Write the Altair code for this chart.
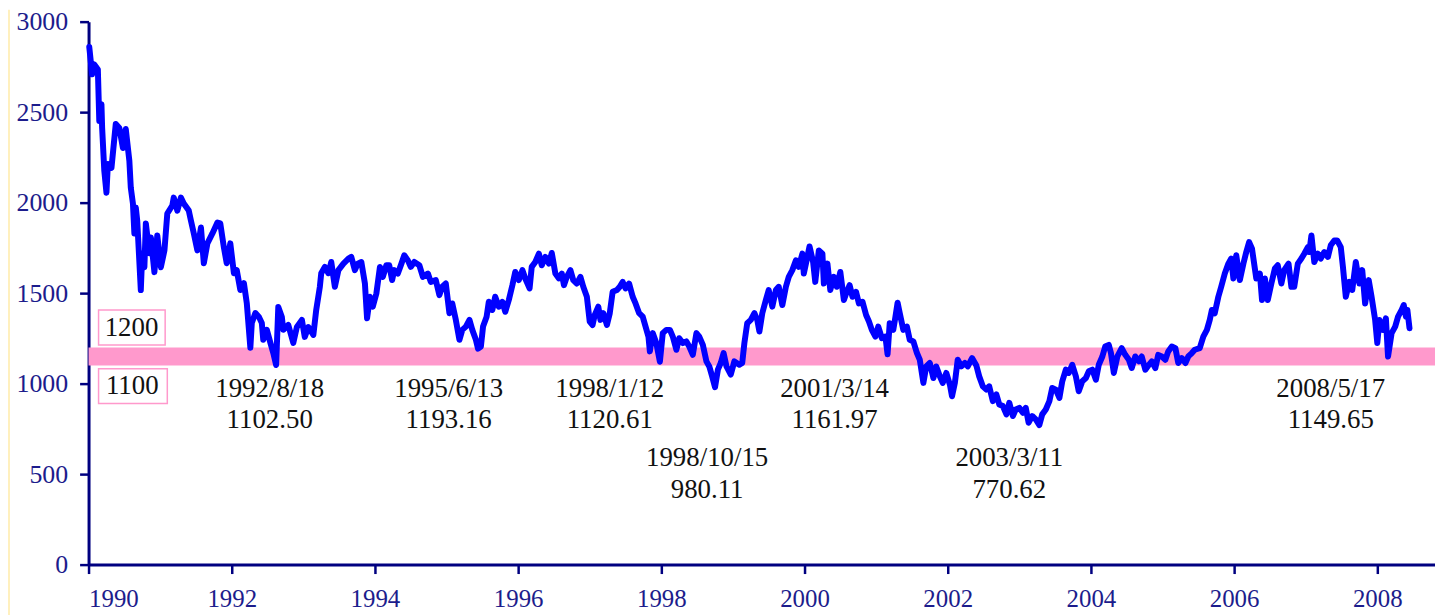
import altair as alt
import pandas as pd

# ---- index series (decimal year, index value) ----
years_1990_93 = [1990.01, 1990.05, 1990.08, 1990.13, 1990.15, 1990.18, 1990.19, 1990.22, 1990.25, 1990.27,
                 1990.32, 1990.38, 1990.43, 1990.48, 1990.52, 1990.57, 1990.59, 1990.62, 1990.64, 1990.66,
                 1990.68, 1990.73, 1990.75, 1990.78, 1990.80, 1990.85, 1990.87, 1990.92, 1990.96, 1991.01,
                 1991.06, 1991.10, 1991.17, 1991.19, 1991.24, 1991.29, 1991.33, 1991.40, 1991.43, 1991.47,
                 1991.52, 1991.57, 1991.61, 1991.66, 1991.73, 1991.80, 1991.84, 1991.89, 1991.93, 1991.98,
                 1992.03, 1992.07, 1992.12, 1992.17, 1992.21, 1992.26, 1992.28, 1992.33, 1992.38, 1992.42,
                 1992.44, 1992.49, 1992.54, 1992.58, 1992.62, 1992.65, 1992.70, 1992.72, 1992.79, 1992.86,
                 1992.91, 1992.98, 1993.02, 1993.07, 1993.14, 1993.18, 1993.23, 1993.25]
vals_1990_93 = [2860, 2709, 2764, 2736, 2451, 2544, 2412, 2176, 2055, 2214,
                2192, 2434, 2412, 2302, 2407, 2231, 2083, 1995, 1830, 1973,
                1901, 1517, 1720, 1643, 1885, 1720, 1808, 1616, 1819, 1643,
                1736, 1940, 1984, 2028, 1956, 2028, 1995, 1956, 1901, 1830,
                1736, 1863, 1665, 1775, 1830, 1890, 1885, 1753, 1665, 1775,
                1610, 1627, 1517, 1555, 1445, 1198, 1335, 1390, 1368, 1335,
                1242, 1297, 1225, 1170, 1103, 1423, 1368, 1297, 1324, 1225,
                1313, 1352, 1258, 1313, 1269, 1407, 1533, 1610]

years_1993_95 = [1993.30, 1993.35, 1993.39, 1993.44, 1993.49, 1993.56, 1993.63, 1993.67, 1993.72, 1993.76,
                 1993.81, 1993.86, 1993.89, 1993.93, 1993.97, 1994.02, 1994.07, 1994.11, 1994.16, 1994.20,
                 1994.24, 1994.27, 1994.32, 1994.37, 1994.41, 1994.46, 1994.50, 1994.55, 1994.62, 1994.67,
                 1994.74, 1994.78, 1994.85, 1994.90, 1994.94, 1994.99, 1995.04, 1995.08, 1995.13, 1995.18,
                 1995.22, 1995.27, 1995.32, 1995.36, 1995.41, 1995.44, 1995.48, 1995.51, 1995.56]
vals_1993_95 = [1645, 1610, 1672, 1535, 1627, 1663, 1691, 1700, 1627, 1663,
                1672, 1553, 1361, 1480, 1425, 1498, 1645, 1590, 1654, 1654,
                1572, 1627, 1608, 1663, 1709, 1681, 1645, 1672, 1654, 1590,
                1608, 1562, 1572, 1489, 1535, 1553, 1389, 1443, 1352, 1242,
                1297, 1315, 1352, 1297, 1242, 1193, 1205, 1315, 1370]

years_1995_99 = [1995.59, 1995.64, 1995.68, 1995.73, 1995.78, 1995.82, 1995.87, 1995.92, 1995.96, 1996.01,
                 1996.06, 1996.10, 1996.16, 1996.19, 1996.24, 1996.29, 1996.33, 1996.38, 1996.43, 1996.47,
                 1996.52, 1996.57, 1996.61, 1996.64, 1996.68, 1996.73, 1996.77, 1996.82, 1996.87, 1996.91,
                 1996.96, 1997.00, 1997.04, 1997.07, 1997.12, 1997.15, 1997.19, 1997.24, 1997.28, 1997.32,
                 1997.38, 1997.42, 1997.46, 1997.50, 1997.55, 1997.60, 1997.64, 1997.69, 1997.74, 1997.78,
                 1997.82, 1997.84, 1997.88, 1997.93, 1997.98, 1998.02, 1998.07, 1998.12, 1998.16, 1998.21,
                 1998.25, 1998.30, 1998.35, 1998.39, 1998.44, 1998.49, 1998.53, 1998.58, 1998.63, 1998.67,
                 1998.71, 1998.75, 1998.79, 1998.83, 1998.87, 1998.91, 1998.97, 1999.02]
vals_1995_99 = [1452, 1407, 1480, 1425, 1452, 1397, 1462, 1544, 1617, 1572,
                1627, 1581, 1526, 1645, 1672, 1718, 1654, 1700, 1663, 1722,
                1608, 1581, 1608, 1544, 1590, 1627, 1572, 1553, 1590, 1535,
                1480, 1343, 1324, 1379, 1425, 1352, 1389, 1324, 1389, 1507,
                1517, 1535, 1562, 1526, 1553, 1480, 1443, 1389, 1370, 1315,
                1260, 1178, 1279, 1224, 1121, 1279, 1297, 1297, 1260, 1187,
                1251, 1224, 1233, 1205, 1159, 1279, 1260, 1214, 1123, 1095,
                1040, 980, 1077, 1114, 1169, 1095, 1050, 1123]

years_1999_02 = [1999.09, 1999.13, 1999.16, 1999.20, 1999.25, 1999.30, 1999.34, 1999.37, 1999.41, 1999.46,
                 1999.50, 1999.55, 1999.60, 1999.64, 1999.69, 1999.74, 1999.78, 1999.83, 1999.88, 1999.92,
                 1999.97, 1999.99, 2000.04, 2000.07, 2000.12, 2000.15, 2000.20, 2000.25, 2000.27, 2000.32,
                 2000.36, 2000.41, 2000.45, 2000.50, 2000.55, 2000.59, 2000.63, 2000.67, 2000.72, 2000.76,
                 2000.81, 2000.86, 2000.90, 2000.94, 2000.99, 2001.03, 2001.08, 2001.13, 2001.16, 2001.19,
                 2001.24, 2001.27, 2001.30, 2001.33, 2001.38, 2001.43, 2001.47, 2001.52, 2001.57, 2001.61,
                 2001.66, 2001.70, 2001.75, 2001.80, 2001.84, 2001.89, 2001.93, 2001.98, 2002.03, 2002.06,
                 2002.10, 2002.14, 2002.19, 2002.24, 2002.28, 2002.34, 2002.40]
vals_1999_02 = [1104, 1114, 1224, 1334, 1352, 1389, 1352, 1288, 1389, 1462,
                1517, 1425, 1517, 1535, 1434, 1535, 1590, 1627, 1681, 1645,
                1718, 1608, 1700, 1758, 1672, 1562, 1736, 1718, 1553, 1663,
                1517, 1590, 1535, 1617, 1462, 1507, 1544, 1480, 1507, 1443,
                1452, 1379, 1343, 1297, 1260, 1315, 1251, 1260, 1162, 1334,
                1297, 1370, 1447, 1389, 1297, 1315, 1242, 1233, 1169, 1132,
                1004, 1095, 1114, 1031, 1095, 1040, 1004, 1059, 995, 930,
                1004, 1132, 1095, 1114, 1095, 1141, 1100]

years_2002_06 = [2002.44, 2002.49, 2002.54, 2002.58, 2002.63, 2002.68, 2002.72, 2002.77, 2002.82, 2002.86,
                 2002.91, 2002.95, 2003.00, 2003.05, 2003.09, 2003.13, 2003.18, 2003.23, 2003.28, 2003.32,
                 2003.37, 2003.42, 2003.46, 2003.51, 2003.56, 2003.60, 2003.65, 2003.69, 2003.74, 2003.79,
                 2003.83, 2003.88, 2003.93, 2003.97, 2004.02, 2004.07, 2004.11, 2004.16, 2004.20, 2004.25,
                 2004.28, 2004.32, 2004.37, 2004.43, 2004.48, 2004.53, 2004.57, 2004.62, 2004.67, 2004.71,
                 2004.76, 2004.81, 2004.85, 2004.90, 2004.94, 2004.99, 2005.04, 2005.08, 2005.13, 2005.18,
                 2005.22, 2005.27, 2005.32, 2005.36, 2005.41, 2005.45, 2005.52, 2005.57, 2005.62, 2005.66,
                 2005.69, 2005.73, 2005.78, 2005.82, 2005.87, 2005.92, 2005.96, 2005.99]
vals_2002_06 = [1040, 985, 967, 985, 903, 940, 885, 876, 830, 894,
                821, 857, 866, 839, 866, 784, 821, 802, 771, 830,
                857, 903, 976, 967, 921, 1013, 1077, 1059, 1104, 1040,
                958, 1013, 1031, 1068, 1077, 1022, 1104, 1150, 1205, 1214,
                1169, 1059, 1150, 1196, 1159, 1132, 1086, 1150, 1123, 1150,
                1077, 1104, 1123, 1086, 1159, 1150, 1132, 1178, 1205, 1196,
                1114, 1141, 1114, 1150, 1169, 1187, 1196, 1260, 1297, 1352,
                1407, 1389, 1480, 1535, 1608, 1663, 1691, 1581]

years_2006_08 = [2006.03, 2006.08, 2006.13, 2006.17, 2006.21, 2006.25, 2006.31, 2006.36, 2006.39, 2006.43,
                 2006.47, 2006.52, 2006.57, 2006.61, 2006.66, 2006.70, 2006.76, 2006.80, 2006.84, 2006.89,
                 2006.94, 2006.98, 2007.03, 2007.05, 2007.08, 2007.12, 2007.17, 2007.21, 2007.26, 2007.31,
                 2007.35, 2007.40, 2007.44, 2007.49, 2007.52, 2007.56, 2007.61, 2007.65, 2007.70, 2007.75,
                 2007.79, 2007.83, 2007.88, 2007.92, 2007.97, 2008.00, 2008.03, 2008.08, 2008.12, 2008.15,
                 2008.20, 2008.25, 2008.29, 2008.34, 2008.37, 2008.40, 2008.42, 2008.45]
vals_2006_08 = [1709, 1572, 1663, 1727, 1782, 1745, 1581, 1608, 1462, 1581,
                1462, 1553, 1636, 1654, 1553, 1627, 1663, 1535, 1535, 1663,
                1691, 1718, 1754, 1727, 1819, 1672, 1718, 1691, 1727, 1700,
                1764, 1791, 1791, 1754, 1645, 1480, 1562, 1517, 1672, 1553,
                1627, 1443, 1572, 1480, 1352, 1224, 1352, 1297, 1361, 1150,
                1279, 1315, 1370, 1407, 1434, 1370, 1407, 1306]

years = years_1990_93 + years_1993_95 + years_1995_99 + years_1999_02 + years_2002_06 + years_2006_08
values = vals_1990_93 + vals_1993_95 + vals_1995_99 + vals_1999_02 + vals_2002_06 + vals_2006_08

# ---- band and annotations ----
band_low, band_high = 1100, 1200
band_label_text = ["1200", "1100"]
band_label_year = [1990.60, 1990.61]
band_label_value = [1308, 984]
band_box_x0 = [1990.14, 1990.14]
band_box_x1 = [1991.07, 1991.10]
band_box_y0 = [1214, 890]
band_box_y1 = [1407, 1082]

ann_date = ["1992/8/18", "1995/6/13", "1998/1/12", "1998/10/15", "2001/3/14", "2003/3/11", "2008/5/17"]
ann_value = ["1102.50", "1193.16", "1120.61", "980.11", "1161.97", "770.62", "1149.65"]
ann_year = [1992.53, 1995.03, 1997.28, 1998.64, 2000.42, 2002.86, 2007.35]
ann_level = [972, 972, 972, 588, 972, 588, 972]

x_ticks = [1990, 1992, 1994, 1996, 1998, 2000, 2002, 2004, 2006, 2008]
y_ticks = [0, 500, 1000, 1500, 2000, 2500, 3000]

X_MIN, X_MAX = 1990, 2008.806
W, H = 1354, 546
NAVY = "#000080"
LABEL = "#1c1c8c"
FONT = "Liberation Serif"

xscale = alt.Scale(domain=[X_MIN, X_MAX], nice=False, zero=False)
yscale = alt.Scale(domain=[0, 3000], nice=False)
xaxis = alt.Axis(values=x_ticks, format="d", title=None, grid=False)
yaxis = alt.Axis(values=y_ticks, format="d", title=None, grid=False)

series = pd.DataFrame({"year": years, "value": values})
band_df = pd.DataFrame({"x0": [X_MIN], "x1": [X_MAX], "lo": [band_low], "hi": [band_high]})
box_df = pd.DataFrame({"x0": band_box_x0, "x1": band_box_x1, "y0": band_box_y0, "y1": band_box_y1,
                       "label": band_label_text, "lx": band_label_year, "ly": band_label_value})
ann_df = pd.DataFrame({"date": ann_date, "val": ann_value, "year": ann_year, "level": ann_level})
strip_df = pd.DataFrame({"k": [0]})

strip = alt.Chart(strip_df).mark_rect(color="#FFF0BE").encode(
    x=alt.value(-81), x2=alt.value(-79), y=alt.value(-12), y2=alt.value(600))

band = alt.Chart(band_df).mark_rect(color="#FF99CC").encode(
    x=alt.X("x0:Q", scale=xscale, axis=xaxis), x2="x1:Q",
    y=alt.Y("lo:Q", scale=yscale, axis=yaxis), y2="hi:Q")

boxes = alt.Chart(box_df).mark_rect(fill="white", stroke="#FF99CC", strokeWidth=1.5).encode(
    x=alt.X("x0:Q", scale=xscale, axis=xaxis), x2="x1:Q",
    y=alt.Y("y0:Q", scale=yscale, axis=yaxis), y2="y1:Q")

box_text = alt.Chart(box_df).mark_text(font=FONT, fontSize=27, color="#111111", baseline="middle").encode(
    x=alt.X("lx:Q", scale=xscale, axis=xaxis),
    y=alt.Y("ly:Q", scale=yscale, axis=yaxis), text="label:N")

line = alt.Chart(series).mark_line(color="#0000FF", strokeWidth=6, strokeJoin="round", strokeCap="round").encode(
    x=alt.X("year:Q", scale=xscale, axis=xaxis),
    y=alt.Y("value:Q", scale=yscale, axis=yaxis))

ann1 = alt.Chart(ann_df).mark_text(font=FONT, fontSize=27, color="#111111", baseline="middle").encode(
    x=alt.X("year:Q", scale=xscale, axis=xaxis),
    y=alt.Y("level:Q", scale=yscale, axis=yaxis), text="date:N")
ann2 = alt.Chart(ann_df).mark_text(font=FONT, fontSize=27, color="#111111", baseline="middle", dy=32).encode(
    x=alt.X("year:Q", scale=xscale, axis=xaxis),
    y=alt.Y("level:Q", scale=yscale, axis=yaxis), text="val:N")

chart = alt.layer(strip, band, boxes, box_text, line, ann1, ann2).properties(
    width=W, height=H,
    autosize=alt.AutoSizeParams(type="none"),
    padding={"left": 81, "top": 12, "right": 0, "bottom": 57},
    background="white",
).configure_view(stroke=None).configure_axis(
    domainColor=NAVY, domainWidth=3, tickColor=NAVY, tickWidth=2.5, tickSize=9,
    labelFont=FONT, labelFontSize=25, labelColor=LABEL,
).configure_axisY(labelPadding=12, labelFontSize=26).configure_axisX(labelPadding=13)

chart.save("out.html", embed_options={"renderer": "svg", "actions": False})
